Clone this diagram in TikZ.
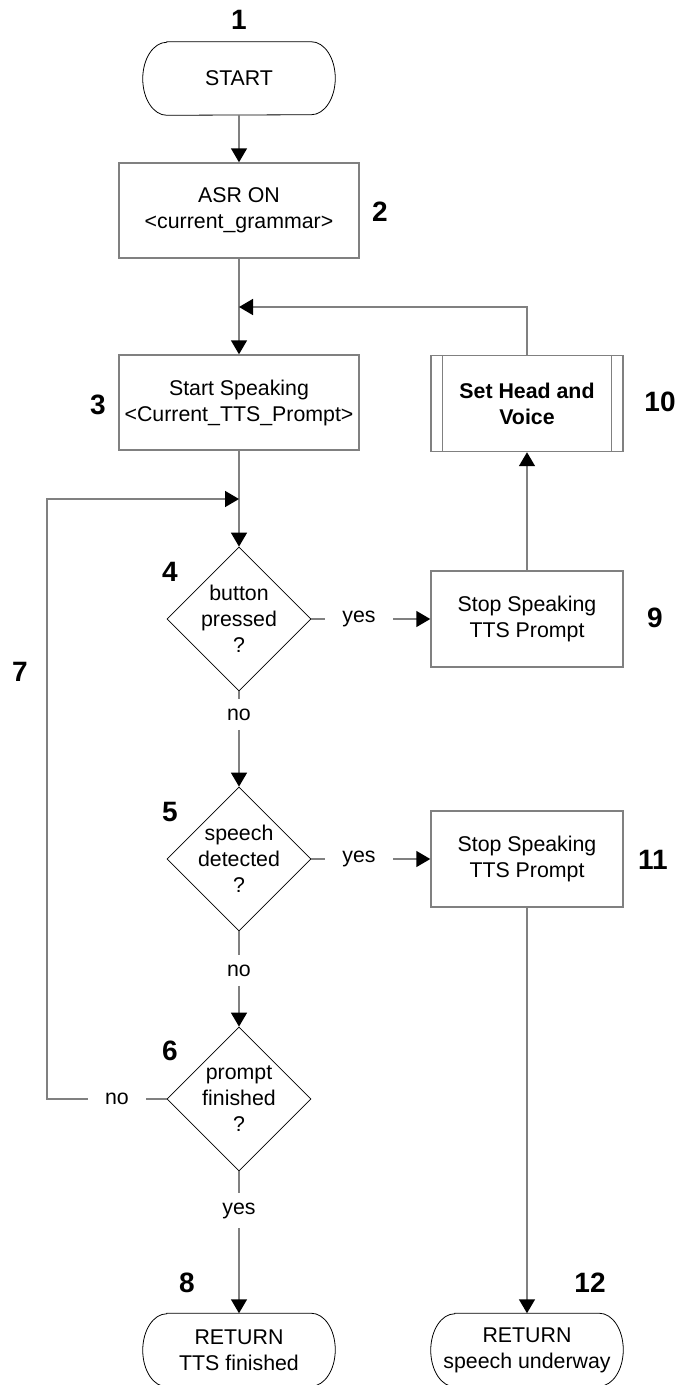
\documentclass[tikz,border=0pt]{standalone}
\usepackage{fontspec}
\setmainfont{Liberation Sans}
\usetikzlibrary{shapes.geometric,arrows.meta}
\definecolor{linegray}{RGB}{128,128,128}

\begin{document}
\begin{tikzpicture}[x=0.75pt,y=0.75pt,
	font=\fontsize{16}{19.5}\selectfont,
	every node/.style={align=center},
	procbox/.style={draw=linegray,line width=1.1pt,minimum width=144pt,minimum height=72pt,inner sep=0pt},
	widebox/.style={procbox,minimum width=180pt,minimum height=71.25pt},
	termbox/.style={minimum width=144pt,minimum height=54.75pt,inner sep=0pt},
	decision/.style={diamond,draw=black,line width=0.6pt,minimum width=108pt,minimum height=108pt,inner sep=0pt},
	answer/.style={inner xsep=13pt,inner ysep=7pt},
	stepnum/.style={font=\fontsize{21}{25}\selectfont\bfseries},
	flow/.style={draw=linegray,line width=1.2pt},
	flowarrow/.style={flow,-{Triangle[length=10.5pt,width=12pt,color=black]}}]
	\useasboundingbox (0,0) rectangle (680,-1385);

	\node[termbox] (t1) at (239,-78.5) {START};
	\node[widebox] (b2) at (239,-210.5) {ASR ON\\<current\_grammar>};
	\node[widebox] (b3) at (239,-402.5) {Start Speaking\\<Current\_TTS\_Prompt>};
	\node[decision,label={[align=center]center:button\\pressed\\?}] (d4) at (239,-619) {};
	\node[decision,label={[align=center]center:speech\\detected\\?}] (d5) at (239,-859) {};
	\node[decision,label={[align=center]center:prompt\\finished\\?}] (d6) at (239,-1099) {};
	\node[termbox] (t8) at (239,-1350) {RETURN\\TTS finished};
	\node[procbox] (b9) at (527,-619) {Stop Speaking\\TTS Prompt};
	\node[procbox] (b10) at (527,-403.5) {\bfseries Set Head and\\\bfseries Voice};
	\node[procbox] (b11) at (527,-859) {Stop Speaking\\TTS Prompt};
	\node[termbox] (t12) at (527,-1350) {RETURN\\speech underway};

	\foreach \t in {t1,t8,t12}
		\draw[black,line width=0.6pt] ([xshift=18pt]\t.north west) -- ([xshift=-18pt]\t.north east)
			arc[start angle=90,end angle=-90,x radius=18pt,y radius=27.375pt]
			-- ([xshift=18pt]\t.south west)
			arc[start angle=270,end angle=90,x radius=18pt,y radius=27.375pt] -- cycle;
	\draw[linegray,line width=1.1pt] ([xshift=9pt]b10.north west) -- ([xshift=9pt]b10.south west)
		([xshift=-9pt]b10.north east) -- ([xshift=-9pt]b10.south east);

	\node[answer] (yes4) at (359,-619) {yes};
	\node[answer] (yes5) at (359,-859) {yes};
	\node[answer] (no4) at (239,-714.5) {no};
	\node[answer] (no5) at (239,-970.5) {no};
	\node[answer] (yes6) at (239,-1210.5) {yes};
	\node[answer] (no6) at (117,-1099) {no};

	\coordinate (j3) at (239,-307);
	\coordinate (j4) at (239,-499);
	\coordinate (c7) at (47,-1099);

	\draw[flowarrow] (t1) -- (b2);
	\draw[flowarrow] (b2) -- (b3);
	\draw[flowarrow] (b3) -- (d4);
	\draw[flow] (d4) -- (no4);
	\draw[flowarrow] (no4) -- (d5);
	\draw[flow] (d5) -- (no5);
	\draw[flowarrow] (no5) -- (d6);
	\draw[flow] (d6) -- (yes6);
	\draw[flowarrow] (yes6) -- (t8);
	\draw[flow] (d4) -- (yes4);
	\draw[flowarrow] (yes4) -- (b9);
	\draw[flowarrow] (b9) -- (b10);
	\draw[flowarrow] (b10.north) |- (j3);
	\draw[flow] (d5) -- (yes5);
	\draw[flowarrow] (yes5) -- (b11);
	\draw[flowarrow] (b11) -- (t12);
	\draw[flow] (d6) -- (no6);
	\draw[flowarrow] (no6) -- (c7) |- (j4);

	\node[stepnum] (n1) at (239,-20) {1};
	\node[stepnum] (n2) at (380,-212) {2};
	\node[stepnum] (n3) at (98,-405) {3};
	\node[stepnum] (n4) at (170,-572) {4};
	\node[stepnum] (n5) at (170,-812) {5};
	\node[stepnum] (n6) at (170,-1051) {6};
	\node[stepnum] (n7) at (20,-672) {7};
	\node[stepnum] (n8) at (187,-1283) {8};
	\node[stepnum] (n9) at (655,-618) {9};
	\node[stepnum] (n10) at (660,-402) {10};
	\node[stepnum] (n11) at (653,-860) {11};
	\node[stepnum] (n12) at (590,-1283) {12};
\end{tikzpicture}
\end{document}
